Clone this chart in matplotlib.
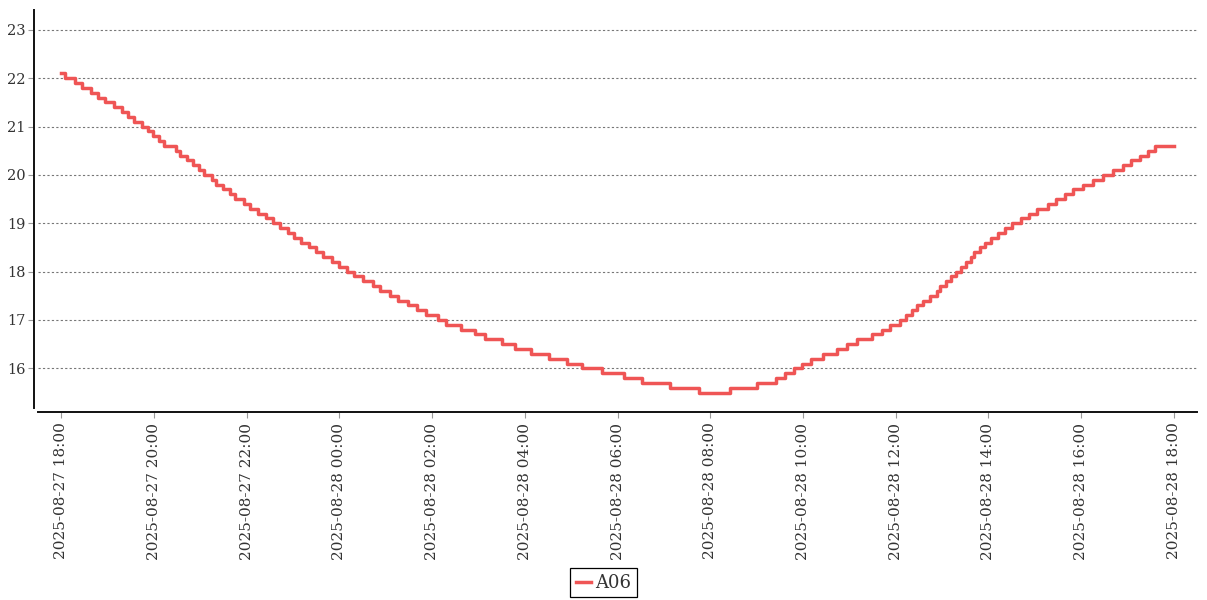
import matplotlib
matplotlib.use('Agg')
import matplotlib.pyplot as plt
import matplotlib.dates as mdates
import pandas as pd

plt.rcParams['font.family'] = ['DejaVu Serif']

# sensor A06, readings where the value changes (step plot)
times = [
    '2025-08-27 18:00', '2025-08-27 18:05', '2025-08-27 18:18', '2025-08-27 18:27', '2025-08-27 18:38',
    '2025-08-27 18:48', '2025-08-27 18:57', '2025-08-27 19:08', '2025-08-27 19:19', '2025-08-27 19:26',
    '2025-08-27 19:34', '2025-08-27 19:44', '2025-08-27 19:52', '2025-08-27 19:59', '2025-08-27 20:06',
    '2025-08-27 20:13', '2025-08-27 20:29', '2025-08-27 20:34', '2025-08-27 20:43', '2025-08-27 20:51',
    '2025-08-27 20:59', '2025-08-27 21:05', '2025-08-27 21:15', '2025-08-27 21:21', '2025-08-27 21:30',
    '2025-08-27 21:39', '2025-08-27 21:45', '2025-08-27 21:56', '2025-08-27 22:05', '2025-08-27 22:15',
    '2025-08-27 22:25', '2025-08-27 22:34', '2025-08-27 22:43', '2025-08-27 22:53', '2025-08-27 23:01',
    '2025-08-27 23:11', '2025-08-27 23:21', '2025-08-27 23:30', '2025-08-27 23:39', '2025-08-27 23:50',
    '2025-08-27 23:59', '2025-08-28 00:10', '2025-08-28 00:19', '2025-08-28 00:30', '2025-08-28 00:43',
    '2025-08-28 00:53', '2025-08-28 01:05', '2025-08-28 01:16', '2025-08-28 01:29', '2025-08-28 01:40',
    '2025-08-28 01:52', '2025-08-28 02:08', '2025-08-28 02:18', '2025-08-28 02:37', '2025-08-28 02:56',
    '2025-08-28 03:09', '2025-08-28 03:30', '2025-08-28 03:47', '2025-08-28 04:08', '2025-08-28 04:31',
    '2025-08-28 04:54', '2025-08-28 05:14', '2025-08-28 05:40', '2025-08-28 06:08', '2025-08-28 06:32',
    '2025-08-28 07:08', '2025-08-28 07:45', '2025-08-28 08:25', '2025-08-28 09:00', '2025-08-28 09:25',
    '2025-08-28 09:37', '2025-08-28 09:48', '2025-08-28 09:59', '2025-08-28 10:11', '2025-08-28 10:26',
    '2025-08-28 10:44', '2025-08-28 10:57', '2025-08-28 11:10', '2025-08-28 11:29', '2025-08-28 11:42',
    '2025-08-28 11:53', '2025-08-28 12:06', '2025-08-28 12:13', '2025-08-28 12:21', '2025-08-28 12:28',
    '2025-08-28 12:35', '2025-08-28 12:45', '2025-08-28 12:53', '2025-08-28 12:58', '2025-08-28 13:05',
    '2025-08-28 13:11', '2025-08-28 13:18', '2025-08-28 13:24', '2025-08-28 13:31', '2025-08-28 13:37',
    '2025-08-28 13:42', '2025-08-28 13:49', '2025-08-28 13:56', '2025-08-28 14:04', '2025-08-28 14:13',
    '2025-08-28 14:21', '2025-08-28 14:31', '2025-08-28 14:42', '2025-08-28 14:52', '2025-08-28 15:03',
    '2025-08-28 15:17', '2025-08-28 15:27', '2025-08-28 15:39', '2025-08-28 15:50', '2025-08-28 16:03',
    '2025-08-28 16:15', '2025-08-28 16:28', '2025-08-28 16:41', '2025-08-28 16:54', '2025-08-28 17:04',
    '2025-08-28 17:16', '2025-08-28 17:27', '2025-08-28 17:35', '2025-08-28 18:00',
]
values = [
    22.1, 22.0, 21.9, 21.8, 21.7, 21.6, 21.5, 21.4, 21.3, 21.2,
    21.1, 21.0, 20.9, 20.8, 20.7, 20.6, 20.5, 20.4, 20.3, 20.2,
    20.1, 20.0, 19.9, 19.8, 19.7, 19.6, 19.5, 19.4, 19.3, 19.2,
    19.1, 19.0, 18.9, 18.8, 18.7, 18.6, 18.5, 18.4, 18.3, 18.2,
    18.1, 18.0, 17.9, 17.8, 17.7, 17.6, 17.5, 17.4, 17.3, 17.2,
    17.1, 17.0, 16.9, 16.8, 16.7, 16.6, 16.5, 16.4, 16.3, 16.2,
    16.1, 16.0, 15.9, 15.8, 15.7, 15.6, 15.5, 15.6, 15.7, 15.8,
    15.9, 16.0, 16.1, 16.2, 16.3, 16.4, 16.5, 16.6, 16.7, 16.8,
    16.9, 17.0, 17.1, 17.2, 17.3, 17.4, 17.5, 17.6, 17.7, 17.8,
    17.9, 18.0, 18.1, 18.2, 18.3, 18.4, 18.5, 18.6, 18.7, 18.8,
    18.9, 19.0, 19.1, 19.2, 19.3, 19.4, 19.5, 19.6, 19.7, 19.8,
    19.9, 20.0, 20.1, 20.2, 20.3, 20.4, 20.5, 20.6, 20.6,
]
y_ticks = [16, 17, 18, 19, 20, 21, 22, 23]
series_name = 'A06'

t = pd.to_datetime(times)

fig = plt.figure(figsize=(12.07, 6.0), dpi=100)
ax = fig.add_axes([38 / 1207, 1 - 408 / 600, (1197 - 38) / 1207, (408 - 10) / 600])

ax.plot(t, values, drawstyle='steps-post', color='#ef5555', lw=2.5, label=series_name)

ax.set_xlim(pd.Timestamp('2025-08-27 17:30'), pd.Timestamp('2025-08-28 18:30'))
ax.set_ylim(15.18, 23.41)
ax.set_yticks(y_ticks)
ax.xaxis.set_major_locator(mdates.HourLocator(byhour=range(0, 24, 2)))
ax.xaxis.set_major_formatter(mdates.DateFormatter('%Y-%m-%d %H:%M'))

ax.grid(axis='y', color='#777777', ls=(0, (2, 2)), lw=0.8)
ax.set_axisbelow(True)
for side in ['top', 'right']:
    ax.spines[side].set_visible(False)
for side in ['left', 'bottom']:
    ax.spines[side].set_position(('outward', 3))
    ax.spines[side].set_linewidth(1.4)
    ax.spines[side].set_color('#111111')

ax.tick_params(axis='x', labelrotation=90, length=4, color='#999999', labelsize=11, labelcolor='#333333')
ax.tick_params(axis='y', length=4, color='#999999', labelsize=10.5, labelcolor='#333333', pad=2)

leg = fig.legend(loc='lower center', bbox_to_anchor=(0.5, 0.0), fontsize=13,
                 frameon=True, fancybox=False, edgecolor='black', framealpha=1,
                 handlelength=0.85, handletextpad=0.25, borderpad=0.3, borderaxespad=0.15)
leg.get_frame().set_linewidth(0.9)
for txt in leg.get_texts():
    txt.set_color('#333333')

fig.savefig('out.png', dpi=100)
